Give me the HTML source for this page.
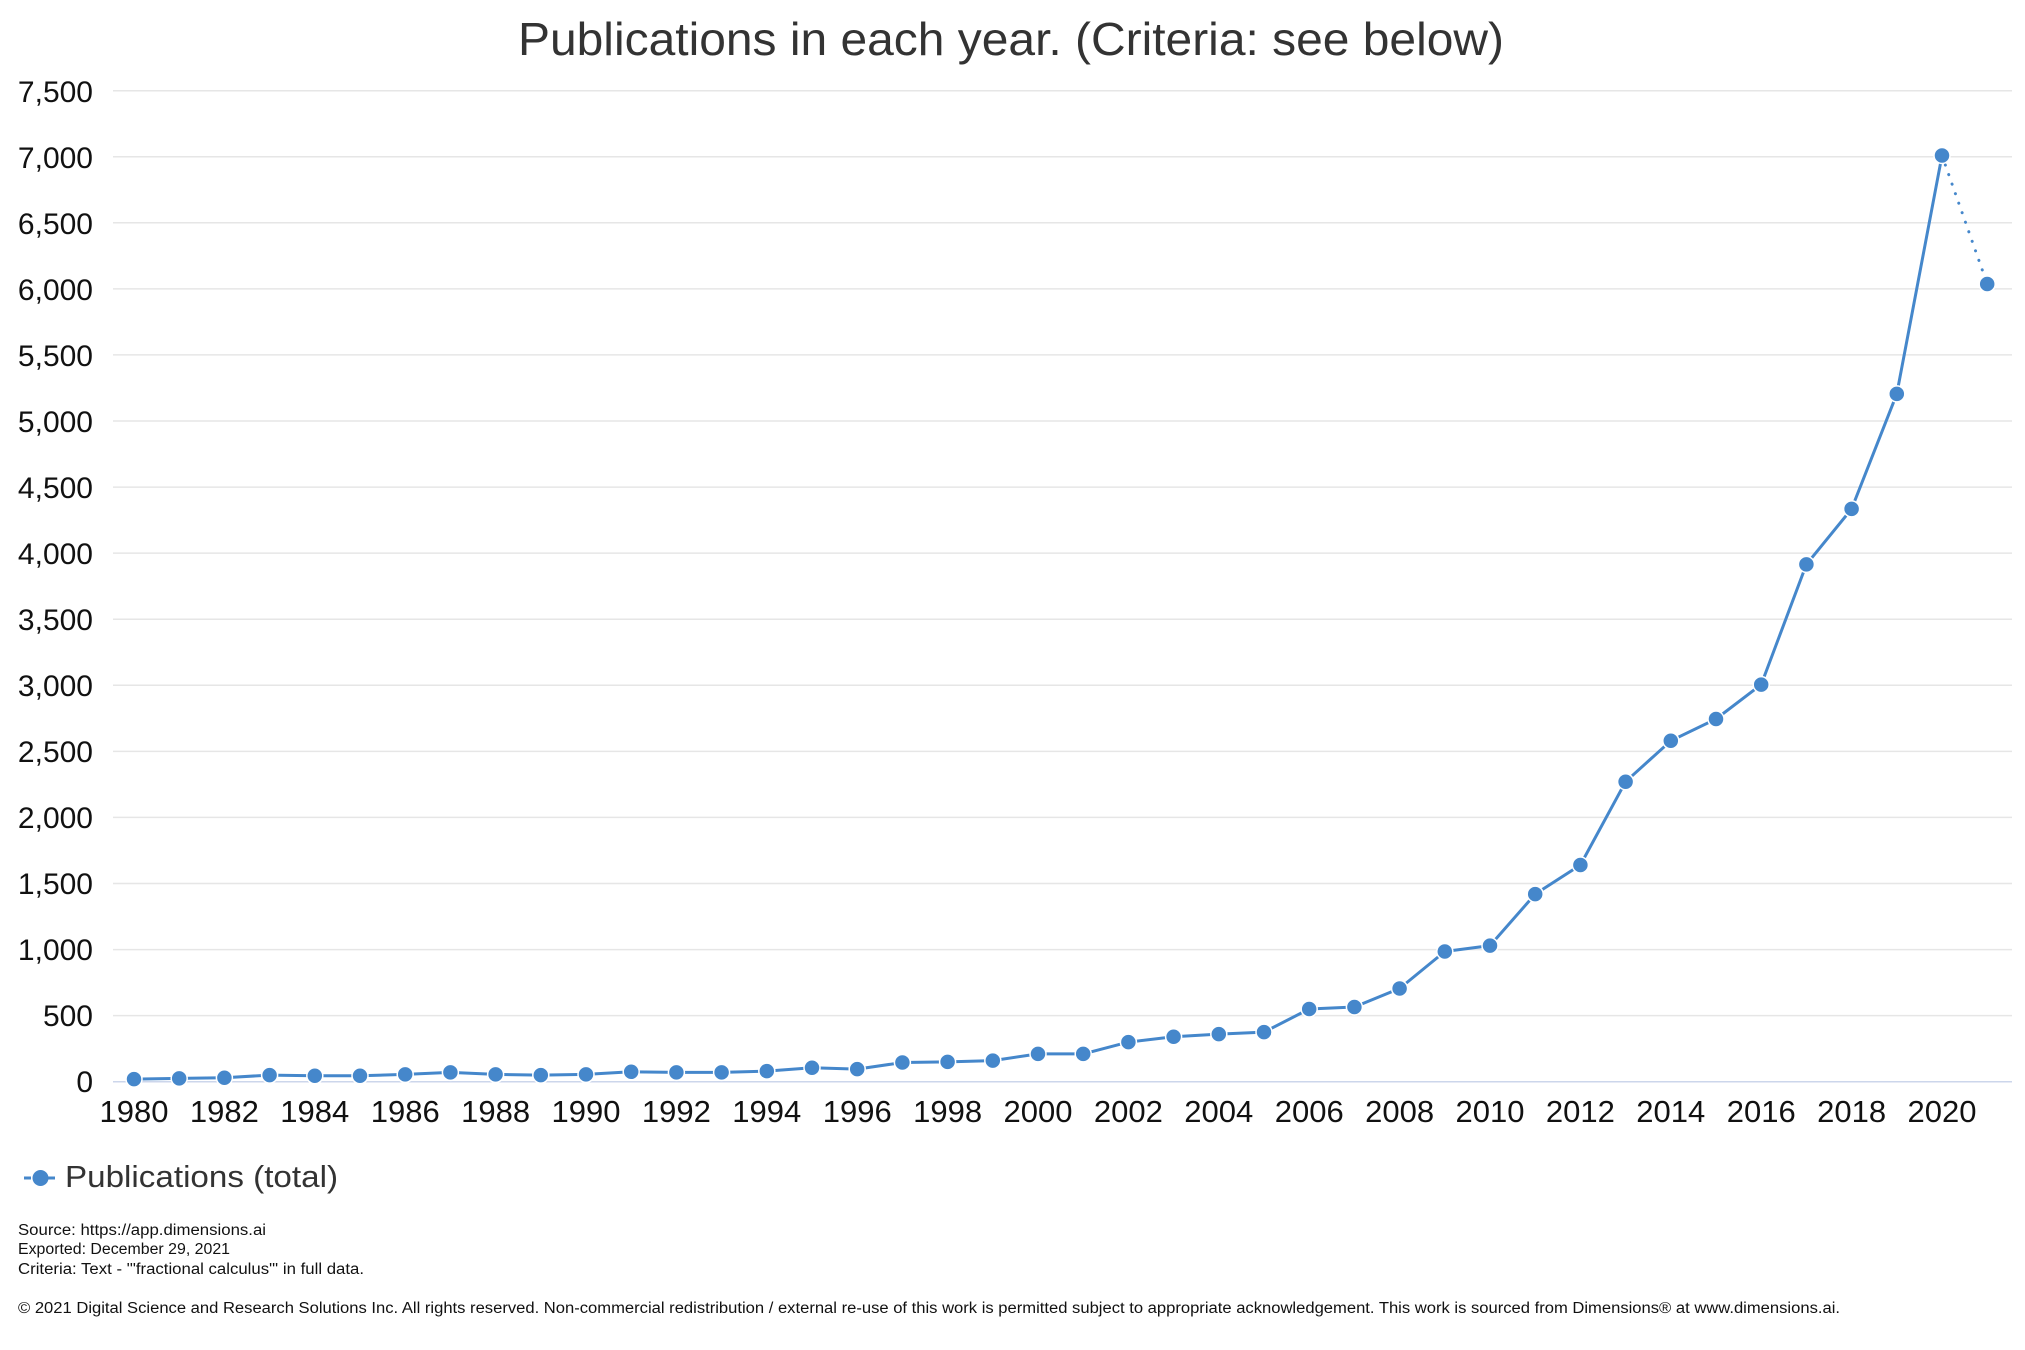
<!DOCTYPE html>
<html><head><meta charset="utf-8"><style>
html,body{margin:0;padding:0;background:#fff;}
svg{display:block;font-family:"Liberation Sans",sans-serif;}
</style></head><body>
<svg width="2025" height="1350" viewBox="0 0 2025 1350" xmlns="http://www.w3.org/2000/svg">
<rect width="2025" height="1350" fill="#fff"/>
<text x="518" y="55" font-size="46" fill="#333" textLength="986" lengthAdjust="spacingAndGlyphs">Publications in each year. (Criteria: see below)</text>
<g stroke="#e6e6e6" stroke-width="1.5">
<line x1="113" x2="2012" y1="1015.6" y2="1015.6"/>
<line x1="113" x2="2012" y1="949.6" y2="949.6"/>
<line x1="113" x2="2012" y1="883.5" y2="883.5"/>
<line x1="113" x2="2012" y1="817.4" y2="817.4"/>
<line x1="113" x2="2012" y1="751.4" y2="751.4"/>
<line x1="113" x2="2012" y1="685.3" y2="685.3"/>
<line x1="113" x2="2012" y1="619.2" y2="619.2"/>
<line x1="113" x2="2012" y1="553.1" y2="553.1"/>
<line x1="113" x2="2012" y1="487.1" y2="487.1"/>
<line x1="113" x2="2012" y1="421.0" y2="421.0"/>
<line x1="113" x2="2012" y1="354.9" y2="354.9"/>
<line x1="113" x2="2012" y1="288.9" y2="288.9"/>
<line x1="113" x2="2012" y1="222.8" y2="222.8"/>
<line x1="113" x2="2012" y1="156.7" y2="156.7"/>
<line x1="113" x2="2012" y1="90.7" y2="90.7"/>
</g>
<line x1="113" x2="2012" y1="1081.7" y2="1081.7" stroke="#ccd6eb" stroke-width="1.5"/>
<g font-size="30" fill="#111" text-anchor="end">
<text x="93" y="1092">0</text>
<text x="93" y="1026">500</text>
<text x="93" y="960">1,000</text>
<text x="93" y="894">1,500</text>
<text x="93" y="828">2,000</text>
<text x="93" y="762">2,500</text>
<text x="93" y="696">3,000</text>
<text x="93" y="630">3,500</text>
<text x="93" y="564">4,000</text>
<text x="93" y="498">4,500</text>
<text x="93" y="432">5,000</text>
<text x="93" y="366">5,500</text>
<text x="93" y="300">6,000</text>
<text x="93" y="234">6,500</text>
<text x="93" y="168">7,000</text>
<text x="93" y="102">7,500</text>
</g>
<g font-size="31" fill="#111" text-anchor="middle">
<text x="134" y="1122" textLength="69">1980</text>
<text x="224.4" y="1122" textLength="69">1982</text>
<text x="314.8" y="1122" textLength="69">1984</text>
<text x="405.2" y="1122" textLength="69">1986</text>
<text x="495.6" y="1122" textLength="69">1988</text>
<text x="586" y="1122" textLength="69">1990</text>
<text x="676.4" y="1122" textLength="69">1992</text>
<text x="766.8" y="1122" textLength="69">1994</text>
<text x="857.2" y="1122" textLength="69">1996</text>
<text x="947.6" y="1122" textLength="69">1998</text>
<text x="1038" y="1122" textLength="69">2000</text>
<text x="1128.4" y="1122" textLength="69">2002</text>
<text x="1218.8" y="1122" textLength="69">2004</text>
<text x="1309.2" y="1122" textLength="69">2006</text>
<text x="1399.6" y="1122" textLength="69">2008</text>
<text x="1490" y="1122" textLength="69">2010</text>
<text x="1580.4" y="1122" textLength="69">2012</text>
<text x="1670.8" y="1122" textLength="69">2014</text>
<text x="1761.2" y="1122" textLength="69">2016</text>
<text x="1851.6" y="1122" textLength="69">2018</text>
<text x="1942" y="1122" textLength="69">2020</text>
</g>
<polyline fill="none" stroke="#4587cb" stroke-width="3" stroke-linejoin="round" points="134,1079.1 179.2,1078.4 224.4,1077.7 269.6,1075.1 314.8,1075.8 360,1075.8 405.2,1074.4 450.4,1072.4 495.6,1074.4 540.8,1075.1 586,1074.4 631.2,1071.8 676.4,1072.4 721.6,1072.4 766.8,1071.1 812,1067.8 857.2,1069.1 902.4,1062.5 947.6,1061.9 992.8,1060.6 1038,1053.9 1083.2,1053.9 1128.4,1042.1 1173.6,1036.8 1218.8,1034.1 1264,1032.1 1309.2,1009.0 1354.4,1007.0 1399.6,988.5 1444.8,951.5 1490,945.6 1535.2,894.1 1580.4,865.0 1625.6,781.7 1670.8,740.8 1716,719.0 1761.2,684.6 1806.4,564.4 1851.6,508.9 1896.8,393.9 1942,155.5"/>
<line x1="1942" y1="155.5" x2="1987.2" y2="284" stroke="#4587cb" stroke-width="3" stroke-dasharray="0.1 10" stroke-linecap="round"/>
<g fill="#4587cb" stroke="#fff" stroke-width="1.5">
<circle cx="134" cy="1079.1" r="8"/><circle cx="179.2" cy="1078.4" r="8"/><circle cx="224.4" cy="1077.7" r="8"/><circle cx="269.6" cy="1075.1" r="8"/><circle cx="314.8" cy="1075.8" r="8"/><circle cx="360" cy="1075.8" r="8"/><circle cx="405.2" cy="1074.4" r="8"/><circle cx="450.4" cy="1072.4" r="8"/><circle cx="495.6" cy="1074.4" r="8"/><circle cx="540.8" cy="1075.1" r="8"/><circle cx="586" cy="1074.4" r="8"/><circle cx="631.2" cy="1071.8" r="8"/><circle cx="676.4" cy="1072.4" r="8"/><circle cx="721.6" cy="1072.4" r="8"/><circle cx="766.8" cy="1071.1" r="8"/><circle cx="812" cy="1067.8" r="8"/><circle cx="857.2" cy="1069.1" r="8"/><circle cx="902.4" cy="1062.5" r="8"/><circle cx="947.6" cy="1061.9" r="8"/><circle cx="992.8" cy="1060.6" r="8"/><circle cx="1038" cy="1053.9" r="8"/><circle cx="1083.2" cy="1053.9" r="8"/><circle cx="1128.4" cy="1042.1" r="8"/><circle cx="1173.6" cy="1036.8" r="8"/><circle cx="1218.8" cy="1034.1" r="8"/><circle cx="1264" cy="1032.1" r="8"/><circle cx="1309.2" cy="1009.0" r="8"/><circle cx="1354.4" cy="1007.0" r="8"/><circle cx="1399.6" cy="988.5" r="8"/><circle cx="1444.8" cy="951.5" r="8"/><circle cx="1490" cy="945.6" r="8"/><circle cx="1535.2" cy="894.1" r="8"/><circle cx="1580.4" cy="865.0" r="8"/><circle cx="1625.6" cy="781.7" r="8"/><circle cx="1670.8" cy="740.8" r="8"/><circle cx="1716" cy="719.0" r="8"/><circle cx="1761.2" cy="684.6" r="8"/><circle cx="1806.4" cy="564.4" r="8"/><circle cx="1851.6" cy="508.9" r="8"/><circle cx="1896.8" cy="393.9" r="8"/><circle cx="1942" cy="155.5" r="8"/><circle cx="1987.2" cy="284" r="8"/>
</g>
<line x1="24" y1="1178" x2="57" y2="1178" stroke="#4587cb" stroke-width="3" stroke-dasharray="7 5"/>
<circle cx="40.5" cy="1178" r="8" fill="#4587cb"/>
<text x="65" y="1187" font-size="31" fill="#333" textLength="273" lengthAdjust="spacingAndGlyphs">Publications (total)</text>
<g font-size="15.5" fill="#111">
<text x="18" y="1235" textLength="248" lengthAdjust="spacingAndGlyphs">Source: https://app.dimensions.ai</text>
<text x="18" y="1254" textLength="212" lengthAdjust="spacingAndGlyphs">Exported: December 29, 2021</text>
<text x="18" y="1274" textLength="346" lengthAdjust="spacingAndGlyphs">Criteria: Text - '"fractional calculus"' in full data.</text>
<text x="18" y="1313" textLength="1822" lengthAdjust="spacingAndGlyphs">© 2021 Digital Science and Research Solutions Inc. All rights reserved. Non-commercial redistribution / external re-use of this work is permitted subject to appropriate acknowledgement. This work is sourced from Dimensions® at www.dimensions.ai.</text>
</g>
</svg>
</body></html>
